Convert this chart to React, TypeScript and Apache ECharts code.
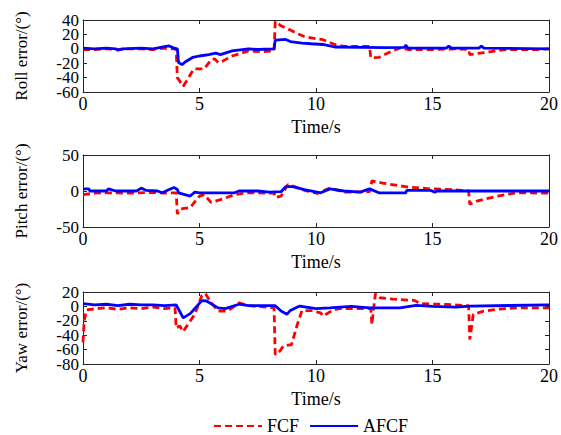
import React, { useEffect, useRef } from "react";
import * as echarts from "echarts";

const xTicks = { min: 0, max: 20, interval: 5 };
const yRanges = [
  { min: -60, max: 40, interval: 20 },
  { min: -50, max: 50, interval: 50 },
  { min: -80, max: 20, interval: 20 },
];
const yNames = ["Roll error/(°)", "Pitch error/(°)", "Yaw error/(°)"];
const xName = "Time/s";
const legendNames = ["FCF", "AFCF"];

const rollFCF: [number, number][] = [
  [0, -1], [0.5, -1], [1, 0], [1.5, -1], [2, 0], [2.5, 0], [3, -1], [3.5, 1], [3.9, 0], [4.0, -1],
  [4.05, -40], [4.3, -52], [4.5, -42], [4.75, -28], [5.2, -28], [5.5, -15], [5.65, -14], [5.8, -19],
  [6.0, -17], [6.4, -10], [6.8, -6], [7.1, -3], [7.6, -4], [8.2, -3], [8.25, 38], [8.5, 32], [8.9, 26],
  [9.2, 21], [9.5, 17], [10.0, 14], [10.3, 12.6], [10.8, 6], [11.2, 3.5], [12.3, 3.5], [12.35, -12.5],
  [12.7, -12], [13.2, -4], [13.6, 1], [14.0, -1], [15.0, -1], [16.0, 0], [16.55, -1], [16.6, -8],
  [17.5, -4], [18.1, -1], [19.5, -1], [20, 0],
];
const rollAFCF: [number, number][] = [
  [0, 1], [0.5, 0], [1, 1], [1.4, 0], [1.5, -2], [1.7, 0], [2.5, 1], [3.0, 0], [3.5, 3], [3.7, 4],
  [3.9, 1], [4.05, 0], [4.1, -19], [4.25, -22], [4.4, -18], [4.7, -12], [5.0, -10], [5.4, -8],
  [5.7, -6], [5.9, -8], [6.1, -6], [6.4, -3], [7.1, 0], [7.5, -1], [8.2, 0], [8.25, 12], [8.7, 13],
  [8.9, 10], [9.4, 8], [9.8, 7], [10.3, 6], [10.8, 2.5], [12.0, 2], [13.0, 1.5], [13.8, 2], [13.85, 5],
  [13.95, 1], [15.6, 1], [15.7, 4], [15.8, 1], [17.0, 1], [17.1, 4], [17.2, 1], [20, 0],
];
const pitchFCF: [number, number][] = [
  [0, -5], [0.5, -3], [1, -2.5], [2, -3], [3, -2], [3.5, -3], [4.0, -2.5], [4.05, -32], [4.2, -25],
  [4.6, -23], [5.0, -7], [5.2, -5], [5.5, -16], [6.0, -11], [6.5, -5], [7.1, -2.5], [8.2, -3],
  [8.25, -9], [8.5, -7], [8.8, 9], [9.0, 7], [9.5, 1], [10.05, -3.4], [10.6, 4], [11.2, -1.6],
  [12.3, -1], [12.4, 14], [12.85, 11], [13.9, 5.7], [14.9, 3], [15.8, 2], [16.55, 0], [16.6, -18.5],
  [16.9, -14], [17.8, -7], [18.6, -2.5], [20, -3],
];
const pitchAFCF: [number, number][] = [
  [0, 3], [0.25, 3], [0.3, 0], [1.0, 0], [1.1, 3], [1.4, 0], [2.3, 0], [2.5, 4], [2.7, 1], [3.2, 0],
  [3.4, -2.5], [3.7, 2], [3.9, 5], [4.05, 2], [4.1, -2.5], [4.6, -7], [4.8, -1.6], [5.0, -2.5],
  [6.5, -2.5], [6.7, 0], [7.5, 0], [8.0, -1.5], [8.5, -1], [8.7, 6], [9.0, 6], [9.5, 2], [10.2, -2.5],
  [10.6, 3], [11.2, 0], [11.9, -1.6], [12.3, 3], [12.7, -2.5], [13.85, -2.5], [13.9, 1], [14.9, 1],
  [15.1, -1.6], [15.2, 0], [20, 0],
];
const yawFCF: [number, number][] = [
  [0, -50], [0.05, -20], [0.15, -5], [0.6, -3], [1.0, -2], [1.5, -4], [2.0, -2], [2.5, -3], [3.0, -1],
  [3.5, -3], [3.95, -2], [4.0, -30], [4.15, -27], [4.3, -35], [4.5, -25], [4.8, -11], [5.1, 15],
  [5.25, 18], [5.5, 5], [5.8, -6.5], [6.2, -6.5], [6.7, 5], [7.1, 1], [8.2, -2], [8.25, -67],
  [8.45, -62], [8.6, -55], [8.95, -53], [9.2, -25], [9.4, -5.6], [9.8, -6], [10.2, -9], [10.3, -13.5],
  [10.7, -5.6], [11.0, -3], [12.35, -3], [12.4, -25], [12.45, -10], [12.55, 17.7], [12.75, 12],
  [13.3, 10], [14.2, 8.4], [14.5, 3.7], [15.6, 2.8], [16.55, 1], [16.6, -46], [16.75, -11],
  [17.2, -6.5], [17.8, -4], [18.6, -2], [20, -2],
];
const yawAFCF: [number, number][] = [
  [0, 4], [0.5, 2], [1, 3], [1.5, 1], [2, 3], [2.5, 2], [3, 2], [3.5, 1], [4.0, 2], [4.3, -16],
  [4.6, -10], [5.1, 8], [5.3, 7.5], [5.8, -2], [6.1, -3], [6.7, 3], [7.1, 1], [8.25, 1], [8.5, -6.5],
  [8.75, -11], [8.9, -5.6], [9.3, 0.5], [10.0, -3], [10.6, -2], [11.5, 0], [12.3, -2], [13.6, -2],
  [14.3, 1.4], [15.0, 0], [16.0, -1], [16.6, 0.5], [20, 2],
];

const fcfData = [rollFCF, pitchFCF, yawFCF];
const afcfData = [rollAFCF, pitchAFCF, yawAFCF];

const FONT = "'Liberation Serif', 'Times New Roman', serif";
const AX = "#262626";

export default function App() {
  const ref = useRef<HTMLDivElement>(null);
  useEffect(() => {
    if (!ref.current) return;
    const chart = echarts.init(ref.current, undefined, { renderer: "svg" });
    const tops = [20, 155, 292];
    const grid = tops.map((t) => ({ left: 83, right: 12, top: t, height: 72 }));
    const xAxis: any[] = [];
    const yAxis: any[] = [];
    const labelStyle = { fontFamily: FONT, fontSize: 18, color: "#000" };
    const yLabelStyle = { fontFamily: FONT, fontSize: 17, color: "#000", lineHeight: 14 };
    for (let i = 0; i < 3; i++) {
      xAxis.push({
        gridIndex: i, type: "value", ...xTicks, position: "bottom",
        axisLine: { onZero: false, lineStyle: { color: AX, width: 1 } },
        axisTick: { inside: true, length: 4, lineStyle: { color: AX } },
        axisLabel: { ...labelStyle, margin: 3, showMinLabel: true, showMaxLabel: true },
        splitLine: { show: false },
        name: xName, nameLocation: "middle", nameGap: 26,
        nameTextStyle: { ...labelStyle },
      });
    }
    for (let i = 0; i < 3; i++) {
      xAxis.push({
        gridIndex: i, type: "value", ...xTicks, position: "top",
        axisLine: { onZero: false, lineStyle: { color: AX, width: 1 } },
        axisTick: { inside: true, length: 4, lineStyle: { color: AX } },
        axisLabel: { show: false }, splitLine: { show: false },
      });
    }
    // left axes: line, ticks, inner labels, name
    for (let i = 0; i < 3; i++) {
      yAxis.push({
        gridIndex: i, type: "value", ...yRanges[i], position: "left",
        axisLine: { show: true, onZero: false, lineStyle: { color: AX, width: 1 } },
        axisTick: { show: true, inside: true, length: 4, lineStyle: { color: AX } },
        axisLabel: { ...yLabelStyle, margin: 4, showMinLabel: false, showMaxLabel: false },
        splitLine: { show: false },
        name: yNames[i], nameLocation: "middle", nameGap: 53,
        nameTextStyle: { fontFamily: FONT, fontSize: 17, color: "#000" },
      });
    }
    // right mirror axes
    for (let i = 0; i < 3; i++) {
      yAxis.push({
        gridIndex: i, type: "value", ...yRanges[i], position: "right",
        axisLine: { show: true, onZero: false, lineStyle: { color: AX, width: 1 } },
        axisTick: { show: true, inside: true, length: 4, lineStyle: { color: AX } },
        axisLabel: { show: false }, splitLine: { show: false },
      });
    }
    // left axes carrying only the end labels (min and max)
    for (let i = 0; i < 3; i++) {
      const r = yRanges[i];
      yAxis.push({
        gridIndex: i, type: "value", min: r.min, max: r.max, interval: r.max - r.min, position: "left",
        axisLine: { show: false }, axisTick: { show: false },
        axisLabel: { ...yLabelStyle, margin: 4, showMinLabel: true, showMaxLabel: true },
        splitLine: { show: false },
      });
    }
    const series: any[] = [];
    for (let i = 0; i < 3; i++) {
      series.push({
        name: legendNames[0], type: "line", xAxisIndex: i, yAxisIndex: i,
        data: fcfData[i], symbol: "none", z: 2,
        lineStyle: { color: "#ff0000", width: 2.8, type: [7, 4] },
        itemStyle: { color: "#ff0000" },
      });
      series.push({
        name: legendNames[1], type: "line", xAxisIndex: i, yAxisIndex: i,
        data: afcfData[i], symbol: "none", z: 3,
        lineStyle: { color: "#0000ff", width: 2.8 },
        itemStyle: { color: "#0000ff" },
      });
    }
    chart.setOption({
      animation: false,
      backgroundColor: "#fff",
      grid,
      xAxis,
      yAxis,
      legend: {
        data: legendNames, left: 208, top: 412, itemWidth: 48, itemHeight: 14, itemGap: 10,
        itemStyle: { color: "rgba(0,0,0,0)", borderWidth: 0, opacity: 0 },
        textStyle: { ...labelStyle },
      },
      series,
    });
    return () => chart.dispose();
  }, []);
  return <div ref={ref} style={{ position: "absolute", left: 0, top: 0, width: 561, height: 435 }} />;
}
